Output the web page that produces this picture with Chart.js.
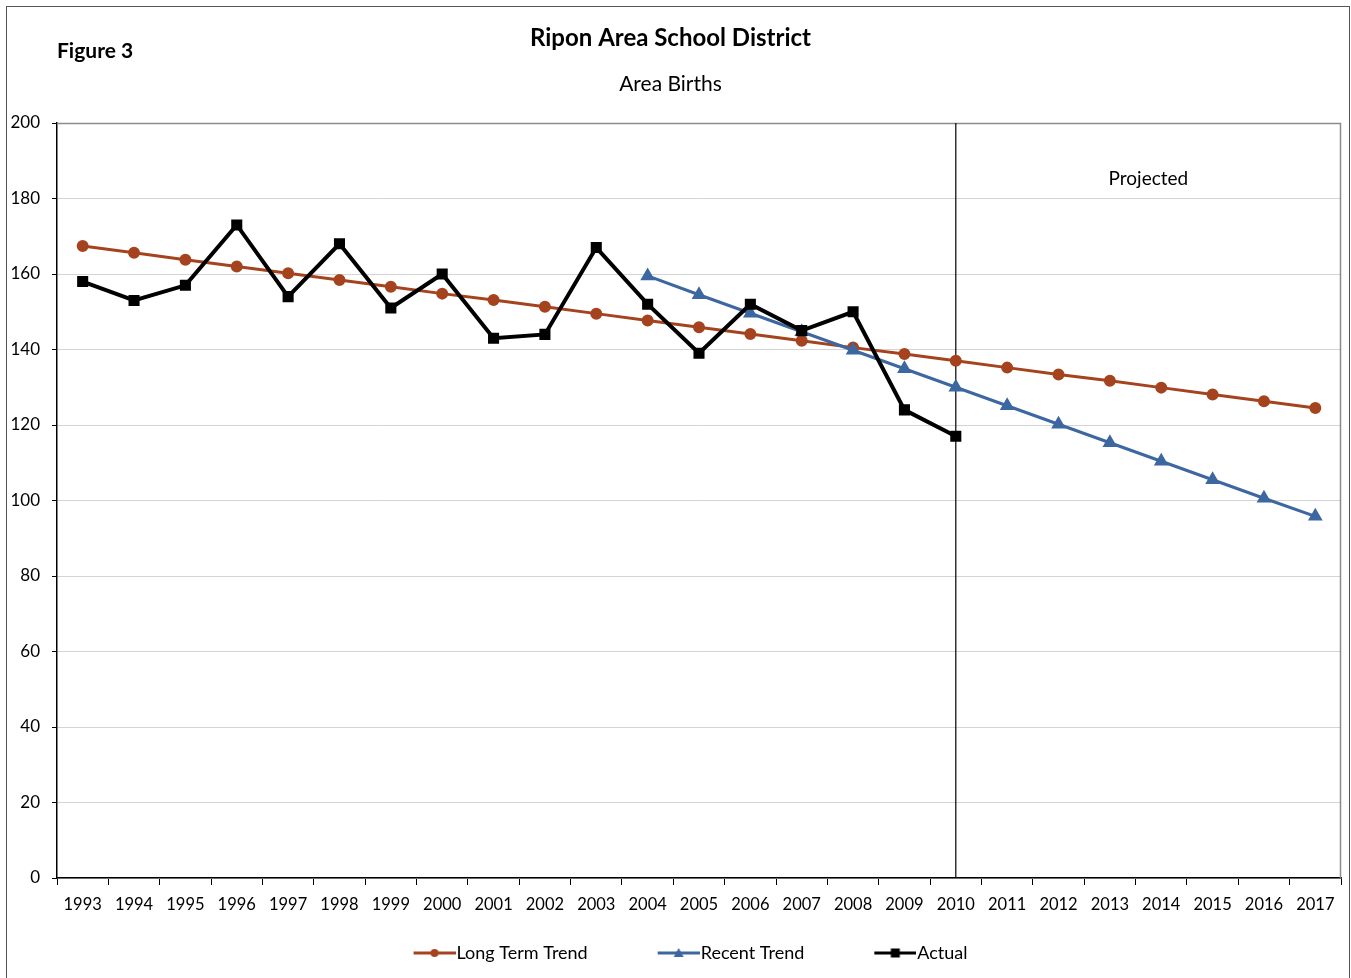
<!DOCTYPE html>
<html>
<head>
<meta charset="utf-8">
<script src="https://cdn.jsdelivr.net/npm/chart.js@4"></script>
<style>
  html, body { margin: 0; padding: 0; background: #fff; }
  #wrap { position: absolute; left: 0; top: 0; width: 1351px; height: 978px; }
</style>
</head>
<body>
<div id="wrap"><canvas id="chart1" width="1351" height="978"></canvas></div>
<script>
const years = ['1993','1994','1995','1996','1997','1998','1999','2000','2001','2002','2003','2004','2005',
               '2006','2007','2008','2009','2010','2011','2012','2013','2014','2015','2016','2017'];
const longTerm = [167.4, 165.6, 163.8, 162.0, 160.2, 158.4, 156.6, 154.8, 153.1, 151.3, 149.5, 147.7, 145.9,
                  144.1, 142.3, 140.5, 138.8, 137.0, 135.2, 133.4, 131.7, 129.9, 128.1, 126.3, 124.5];
const recentTrend = [null, null, null, null, null, null, null, null, null, null, null, 159.5, 154.5,
                     149.6, 144.7, 139.8, 134.9, 130.0, 125.1, 120.2, 115.3, 110.4, 105.5, 100.6, 95.8];
const actual = [158, 153, 157, 173, 154, 168, 151, 160, 143, 144, 167, 152, 139,
                152, 145, 150, 124, 117, null, null, null, null, null, null, null];
const yTicks = [0, 20, 40, 60, 80, 100, 120, 140, 160, 180, 200];
const projectedFrom = '2010';

const FONT = 'Lato, "Open Sans", sans-serif';
const RUST = '#A6431F';
const BLUE = '#3C67A0';

// legend swatch: line with marker, drawn at the right end of a wider transparent image
function swatch(color, style) {
  const c = document.createElement('canvas');
  c.width = 90; c.height = 12;
  const g = c.getContext('2d');
  const x0 = 48, cx = x0 + 21;
  g.strokeStyle = color; g.fillStyle = color; g.lineWidth = 3;
  g.beginPath(); g.moveTo(x0, 6); g.lineTo(x0 + 42, 6); g.stroke();
  g.beginPath();
  if (style === 'circle') g.arc(cx, 6, 4, 0, Math.PI * 2);
  else if (style === 'triangle') { g.moveTo(cx, 1); g.lineTo(cx + 5, 10); g.lineTo(cx - 5, 10); g.closePath(); }
  else g.rect(cx - 4.5, 1.5, 9, 9);
  g.fill();
  return c;
}

const decor = {
  id: 'decor',
  beforeDatasetsDraw(chart) {
    const { ctx, chartArea: a } = chart;
    ctx.save();
    ctx.strokeStyle = '#8c8c8c';
    ctx.lineWidth = 1.5;
    ctx.beginPath();
    ctx.moveTo(a.left, a.top + 0.5); ctx.lineTo(a.right - 0.5, a.top + 0.5); ctx.lineTo(a.right - 0.5, a.bottom);
    ctx.stroke();
    const x = chart.scales.x.getPixelForValue(years.indexOf(projectedFrom));
    ctx.strokeStyle = '#000';
    ctx.lineWidth = 1.2;
    ctx.beginPath(); ctx.moveTo(x, a.top); ctx.lineTo(x, a.bottom); ctx.stroke();
    ctx.fillStyle = '#000';
    ctx.font = '19px ' + FONT;
    ctx.textAlign = 'center'; ctx.textBaseline = 'middle';
    ctx.fillText('Projected', (x + a.right) / 2, chart.scales.y.getPixelForValue(185.2));
    ctx.restore();
  },
  afterDraw(chart) {
    const { ctx } = chart;
    ctx.save();
    ctx.strokeStyle = '#555';
    ctx.lineWidth = 1;
    ctx.strokeRect(6.5, 6.5, 1343, 1000);
    ctx.fillStyle = '#000';
    ctx.font = 'bold 21px ' + FONT;
    ctx.textAlign = 'left'; ctx.textBaseline = 'middle';
    ctx.fillText('Figure 3', 57, 51);
    ctx.restore();
  }
};

const ctx1 = document.getElementById('chart1').getContext('2d');
const chart1 = new Chart(ctx1, {
  type: 'line',
  data: {
    labels: years,
    datasets: [{
      label: 'Long Term Trend',
      data: longTerm,
      borderColor: RUST, backgroundColor: RUST,
      borderWidth: 3, pointStyle: 'circle', pointRadius: 4.5,
      order: 3
    }, {
      label: 'Recent Trend',
      data: recentTrend,
      borderColor: BLUE, backgroundColor: BLUE,
      borderWidth: 3, pointStyle: 'triangle', pointRadius: 5.5,
      order: 2
    }, {
      label: 'Actual',
      data: actual,
      borderColor: '#000', backgroundColor: '#000',
      borderWidth: 4, pointStyle: 'rect', pointRadius: 5,
      order: 1
    }]
  },
  options: {
    responsive: false,
    animation: false,
    spanGaps: false,
    layout: { padding: { top: 20, right: 10, bottom: 6, left: 0 } },
    plugins: {
      title: {
        display: true, text: 'Ripon Area School District', color: '#000',
        font: { family: FONT, size: 24, weight: 'bold', lineHeight: 1.2 },
        padding: { top: 4, bottom: 19 }
      },
      subtitle: {
        display: true, text: 'Area Births', color: '#000',
        font: { family: FONT, size: 21, lineHeight: 1.2 },
        padding: { top: 0, bottom: 26 }
      },
      legend: {
        position: 'bottom',
        labels: {
          color: '#000', font: { family: FONT, size: 18 }, padding: 30,
          usePointStyle: true, pointStyleWidth: 74, boxHeight: 12,
          generateLabels(chart) {
            const styles = ['circle', 'triangle', 'rect'];
            return chart.data.datasets.map((d, i) => ({
              text: d.label, datasetIndex: i, fontColor: '#000',
              pointStyle: swatch(d.borderColor, styles[i]), lineWidth: 0,
              strokeStyle: 'transparent', fillStyle: 'transparent'
            }));
          }
        }
      },
      tooltip: { enabled: false }
    },
    scales: {
      x: {
        offset: true,
        grid: { offset: true, drawOnChartArea: false, tickLength: 7, tickColor: '#000' },
        border: { color: '#000', width: 1.5 },
        ticks: { color: '#000', font: { family: FONT, size: 16.5 }, maxRotation: 0, autoSkip: false, padding: 10 },
        afterFit(s) { s.height = 36; }
      },
      y: {
        min: 0, max: 200,
        afterBuildTicks(s) { s.ticks = yTicks.map(v => ({ value: v })); },
        grid: { color: '#d4d4d4', tickLength: 5, tickColor: '#000' },
        border: { color: '#000', width: 1.5 },
        ticks: { color: '#000', font: { family: FONT, size: 17 }, padding: 12 },
        afterFit(s) { s.width = 57; }
      }
    }
  },
  plugins: [decor]
});
</script>
</body>
</html>
